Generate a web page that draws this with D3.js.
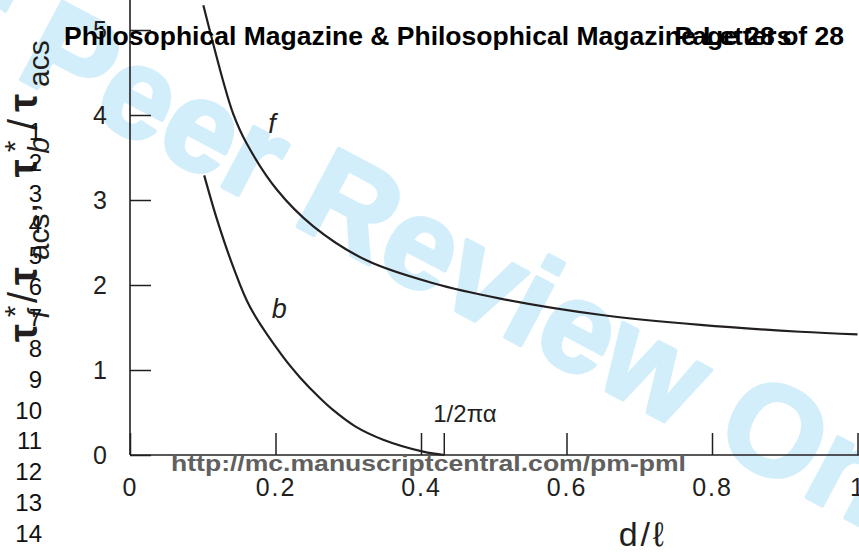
<!DOCTYPE html>
<meta charset="utf-8">
<html>
<body style="margin:0;background:#fff">
<div id="chart"></div>
<script src="https://cdn.jsdelivr.net/npm/d3@7/dist/d3.min.js"></script>
<script>
// values: d/l against the stress ratio
var fD = [0.1008, 0.128, 0.142, 0.160, 0.202, 0.252, 0.325, 0.417, 0.509, 0.646, 0.784, 0.921, 1.0];
var fV = [5.29, 4.40, 4.01, 3.67, 3.12, 2.69, 2.29, 2.02, 1.84, 1.65, 1.53, 1.45, 1.42];
var bD = [0.102, 0.120, 0.142, 0.165, 0.210, 0.234, 0.261, 0.279, 0.309, 0.348, 0.403, 0.432];
var bV = [3.29, 2.76, 2.21, 1.74, 1.16, 0.91, 0.67, 0.53, 0.34, 0.18, 0.04, 0.0];
var xTicks = [0, 0.2, 0.4, 0.6, 0.8, 1];
var yTicks = [0, 1, 2, 3, 4, 5];
var xCrit = 0.432;          // 1/2πα, where b reaches zero
var lineNums = d3.range(1, 15);
var header = "Philosophical Magazine & Philosophical Magazine Letters";
var pageLabel = "Page 28 of 28";
var footerUrl = "http://mc.manuscriptcentral.com/pm-pml";
var watermark = "For Peer Review Only";

var W = 859, H = 552;
var ink = "#231f20";
var font = "'Liberation Sans', Arial, sans-serif";

var svg = d3.select("#chart").append("svg")
    .attr("width", W).attr("height", H)
    .style("font-family", font);

var x = d3.scaleLinear().domain([0, 1]).range([130, 857.5]);
var y = d3.scaleLinear().domain([0, 5]).range([455, 30]);

// watermark sits under everything
svg.append("text")
    .attr("transform", "translate(-200,-38) rotate(28)")
    .style("font-size", "128px")
    .style("font-weight", "bold")
    .attr("fill", "#d3eefb")
    .attr("stroke", "#d3eefb").attr("stroke-width", 4).attr("stroke-linejoin", "round")
    .text(watermark);

// axes
var yAxis = d3.axisLeft(y).tickValues(yTicks)
    .tickSizeInner(-21).tickSizeOuter(0).tickPadding(23)
    .tickFormat(d3.format("d"));
var gy = svg.append("g").attr("transform", "translate(" + x(0) + ",0)").call(yAxis);

var xAxis = d3.axisBottom(x).tickValues(xTicks)
    .tickSizeInner(-22).tickSizeOuter(0).tickPadding(23)
    .tickFormat(function (d) { return String(d); });
var gx = svg.append("g").attr("transform", "translate(0," + y(0) + ")").call(xAxis);

[gx, gy].forEach(function (g) {
    g.select(".domain").remove();
    g.selectAll(".tick line").attr("stroke", ink).attr("stroke-width", 1.5);
    g.selectAll(".tick text").attr("fill", ink).style("font-size", "25px").style("font-family", font);
});
gx.selectAll(".tick text").style("letter-spacing", "2px");

svg.append("line")
    .attr("x1", x(0)).attr("x2", x(0)).attr("y1", y(0)).attr("y2", 0)
    .attr("stroke", ink).attr("stroke-width", 1.6);
svg.append("line")
    .attr("x1", x(0)).attr("x2", W).attr("y1", y(0)).attr("y2", y(0))
    .attr("stroke", ink).attr("stroke-width", 1.6);

// extra tick at 1/2πα
svg.append("line")
    .attr("x1", x(xCrit)).attr("x2", x(xCrit))
    .attr("y1", y(0)).attr("y2", y(0) - 22)
    .attr("stroke", ink).attr("stroke-width", 1.5);
svg.append("text")
    .attr("x", x(xCrit) - 11).attr("y", y(0) - 33)
    .attr("fill", ink).style("font-size", "24px")
    .text("1/2πα");

// curves
var line = d3.line()
    .x(function (d) { return x(d[0]); })
    .y(function (d) { return y(d[1]); })
    .curve(d3.curveCatmullRom.alpha(0.5));

svg.append("path").datum(d3.zip(fD, fV))
    .attr("d", line).attr("fill", "none").attr("stroke", ink).attr("stroke-width", 2.2);
svg.append("path").datum(d3.zip(bD, bV))
    .attr("d", line).attr("fill", "none").attr("stroke", ink).attr("stroke-width", 2.2);

svg.append("text").attr("x", x(0.19)).attr("y", y(3.79))
    .attr("fill", ink).style("font-size", "27px").style("font-style", "italic").text("f");
svg.append("text").attr("x", x(0.195)).attr("y", y(1.61))
    .attr("fill", ink).style("font-size", "27px").style("font-style", "italic").text("b");

// axis titles
svg.append("text")
    .attr("x", x(0.705)).attr("y", 546)
    .attr("text-anchor", "middle")
    .attr("fill", ink).style("font-size", "34px").style("letter-spacing", "3px")
    .text("d/ℓ");

var ySegs = [
    {t: "τ"}, {t: "*", sup: 1}, {t: "f", sub: 1, it: 1, back: 20}, {t: "/"}, {t: "τ"}, {t: "acs", sub: 1},
    {t: ", "}, {t: "τ"}, {t: "*", sup: 1}, {t: "b", sub: 1, it: 1, back: 20}, {t: "/"}, {t: "τ"}, {t: "acs", sub: 1}
];
var yt = svg.append("text")
    .attr("transform", "translate(37,342) rotate(-90)")
    .attr("fill", ink).style("font-size", "40px");
var shift = 0;
ySegs.forEach(function (s) {
    var want = s.sup ? -12 : s.sub ? 12 : 0;
    var ts = yt.append("tspan").attr("dy", want - shift).text(s.t);
    shift = want;
    if (s.back) ts.attr("dx", -s.back);
    if (s.sub || s.sup) ts.style("font-size", "30px");
    ts.style("letter-spacing", s.sub && !s.it ? "0px" : "7px");
    if (s.it) ts.style("font-style", "italic");
    if (s.t === "τ") ts.style("font-weight", "bold");
});

// page furniture
var ln = d3.scaleLinear().domain([1, 14]).range([132, 533.7]);
svg.append("g").selectAll("text").data(lineNums).enter().append("text")
    .attr("x", 42).attr("y", function (d) { return ln(d); })
    .attr("dy", "0.35em").attr("text-anchor", "end")
    .attr("fill", "#111").style("font-size", "24px")
    .text(function (d) { return d; });

svg.append("text").attr("x", 64).attr("y", 45)
    .attr("fill", "#000").style("font-size", "26.5px").style("font-weight", "bold")
    .text(header);
svg.append("text").attr("x", 844).attr("y", 45).attr("text-anchor", "end")
    .attr("fill", "#000").style("font-size", "26.5px").style("font-weight", "bold")
    .text(pageLabel);

svg.append("text").attr("x", 171).attr("y", 471)
    .attr("textLength", 515).attr("lengthAdjust", "spacingAndGlyphs")
    .attr("fill", "#606060").style("font-size", "22px").style("font-weight", "bold")
    .text(footerUrl);
</script>
</body>
</html>
